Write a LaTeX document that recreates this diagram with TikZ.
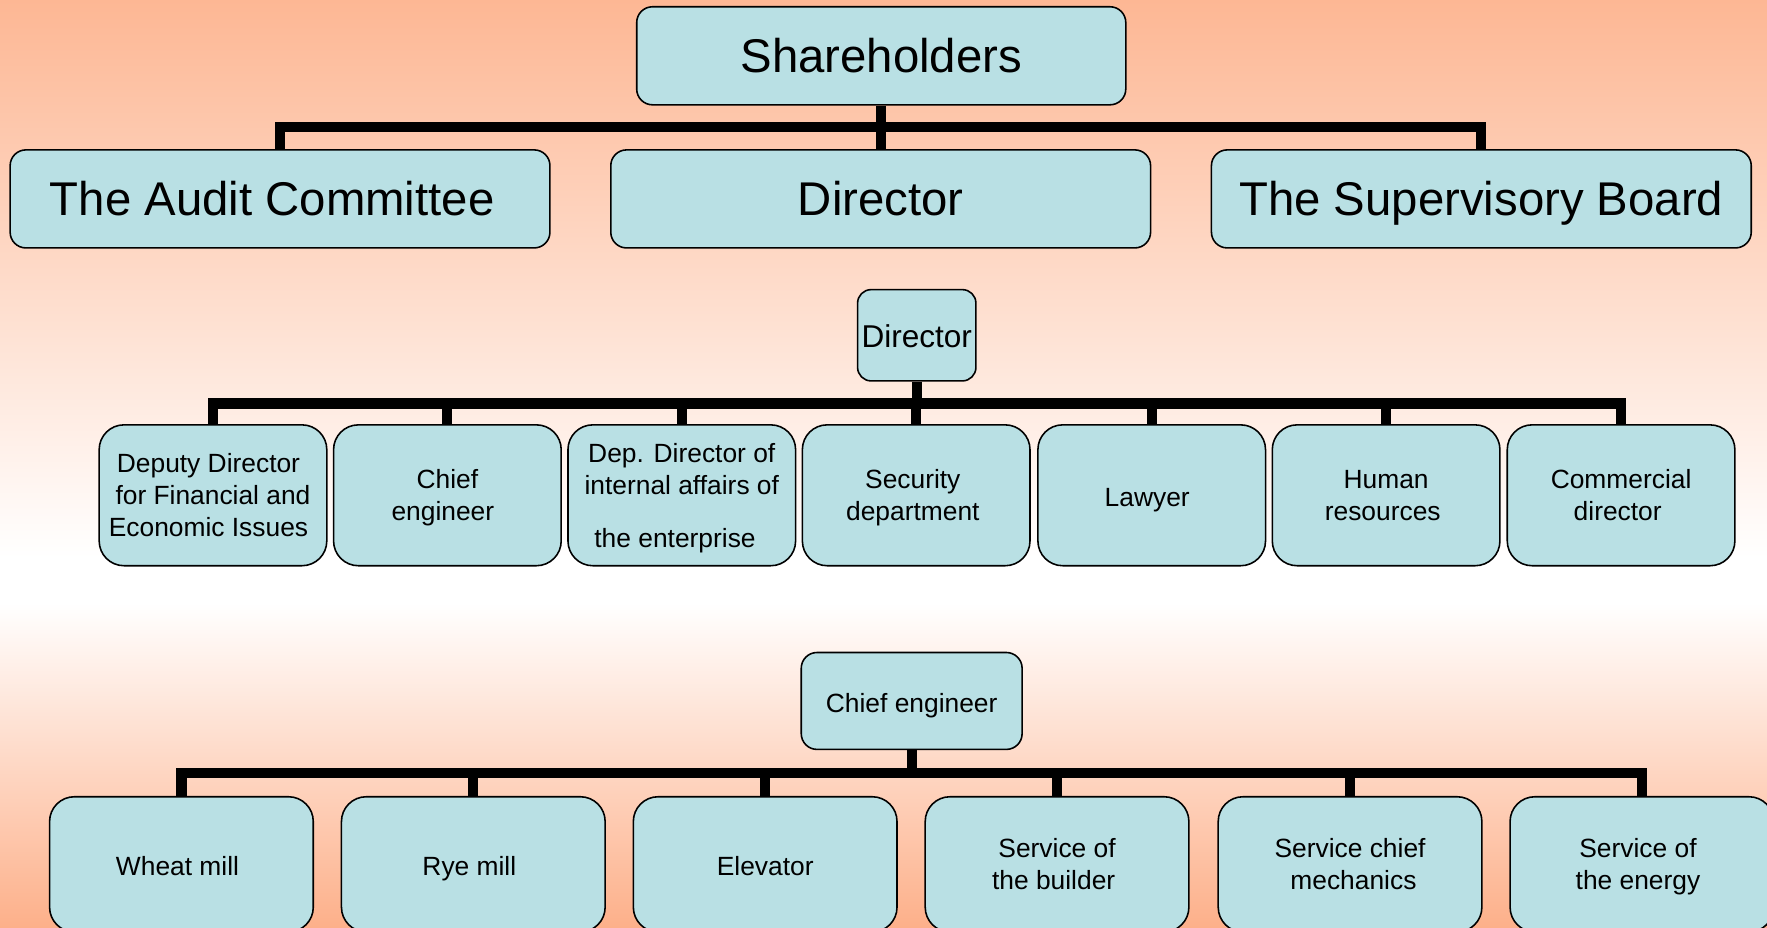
\documentclass[tikz,border=0pt]{standalone}
\usepackage{fontspec}
\setmainfont{Liberation Sans}
\definecolor{boxfill}{RGB}{185,224,228}
\definecolor{peachtop}{RGB}{253,183,148}
\definecolor{peachbot}{RGB}{253,176,138}
\newcommand{\tsp}[1]{\hspace*{#1pt}}
\begin{document}
\begin{tikzpicture}[x=1pt,y=-1pt,
  orgbox/.style={draw=black, line width=1.4pt, fill=boxfill, rounded corners=#1,
    inner sep=0pt, align=center, text=black},
  orgbox/.default=16pt,
  bigtxt/.style={font=\fontsize{42}{50}\selectfont, text height=30pt, text depth=0pt},
  midtxt/.style={font=\fontsize{28}{34}\selectfont, text height=21pt, text depth=0pt},
  smalltxt/.style={font=\fontsize{23.4}{28.5}\selectfont},
  oneline/.style={text height=20pt, text depth=0pt},
  multiline/.style={text depth=0pt},
  orgline/.style={line width=9pt, line join=miter}]
\useasboundingbox (0,0) rectangle (1568,823);
% background
\shade[top color=peachtop, bottom color=white] (0,0) rectangle (1568,495);
\fill[white] (0,494) rectangle (1568,536);
\shade[top color=white, bottom color=peachbot] (0,535) rectangle (1568,823);

\coordinate (b1) at (0,113);
\coordinate (b2) at (0,358);
\coordinate (b3) at (0,686);

% level 1
\node[orgbox=14pt, bigtxt, minimum width=434pt, minimum height=87pt] (sh) at (782,49.5) {Shareholders};
\node[orgbox=14pt, bigtxt, minimum width=479pt, minimum height=87pt] (audit) at (248.5,176.5) {The Audit Committee\tsp{14}};
\node[orgbox=14pt, bigtxt, minimum width=479pt, minimum height=87pt] (dir1) at (781.5,176.5) {Director};
\node[orgbox=14pt, bigtxt, minimum width=479pt, minimum height=87pt] (sup) at (1314.5,176.5) {The Supervisory Board};

% level 2
\node[orgbox=12pt, midtxt, minimum width=105pt, minimum height=81pt] (dir2) at (813.5,297.5) {Director};
\foreach \n/\x/\t/\s in {
  d1/189/{Deputy Director\tsp{8}\\for Financial and\tsp{8}\\Economic Issues\tsp{8}}/multiline,
  d2/397/{Chief\\engineer\tsp{8}}/multiline,
  d3/605/{Dep. Director of\\internal affairs of\\[18.5pt]the enterprise\tsp{12}}/multiline,
  d4/813/{Security\tsp{6}\\department\tsp{6}}/multiline,
  d5/1022/{Lawyer\tsp{8}}/oneline,
  d6/1230/{Human\\resources\tsp{6}}/multiline,
  d7/1438.5/{Commercial\\director\tsp{6}}/multiline}
  \node[orgbox=22pt, smalltxt, \s, minimum width=202pt, minimum height=125pt] (\n) at (\x,439.5) {\t};

% level 3
\node[orgbox=14pt, smalltxt, oneline, minimum width=196pt, minimum height=86pt] (ce) at (809,622) {Chief engineer};
\foreach \n/\x/\t/\s in {
  e1/161/{Wheat mill\tsp{7}}/oneline,
  e2/420/{Rye mill\tsp{7}}/oneline,
  e3/679/{Elevator}/oneline,
  e4/938/{Service of\\the builder\tsp{6}}/multiline,
  e5/1198/{Service chief\\\tsp{6}mechanics}/multiline,
  e6/1457/{Service of\tsp{7}\\the energy\tsp{7}}/multiline}
  \node[orgbox=22pt, smalltxt, \s, minimum width=234pt, minimum height=120pt] (\n) at (\x,767) {\t};

% connectors
\draw[orgline] (sh.south) -- (sh.south |- b1);
\draw[orgline] (audit.north) -- (audit.north |- b1) -- (sup.north |- b1) -- (sup.north);
\draw[orgline] (dir1.north) -- (dir1.north |- b1);

\draw[orgline] (dir2.south) -- (dir2.south |- b2);
\draw[orgline] (d1.north) -- (d1.north |- b2) -- (d7.north |- b2) -- (d7.north);
\foreach \n in {d2,d3,d4,d5,d6}
  \draw[orgline] (\n.north) -- (\n.north |- b2);

\draw[orgline] (ce.south) -- (ce.south |- b3);
\draw[orgline] (e1.north) -- (e1.north |- b3) -- (e6.north |- b3) -- (e6.north);
\foreach \n in {e2,e3,e4,e5}
  \draw[orgline] (\n.north) -- (\n.north |- b3);
\end{tikzpicture}
\end{document}
